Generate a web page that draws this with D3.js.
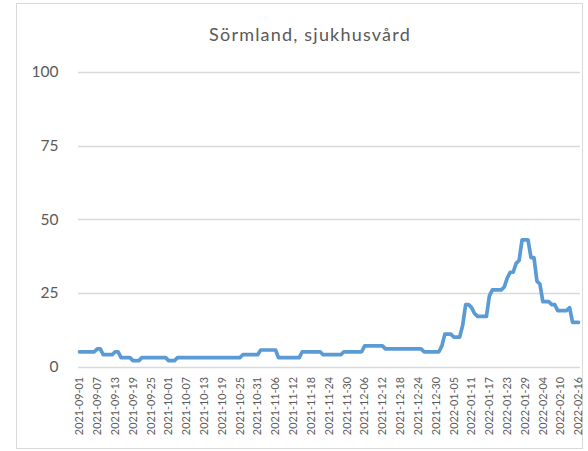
<!DOCTYPE html>
<html>
<head>
<meta charset="utf-8">
<script src="https://cdn.jsdelivr.net/npm/d3@7"></script>
<style>
  html, body { margin: 0; padding: 0; background: #fff; }
  svg { display: block; }
</style>
</head>
<body>
<svg id="chart" width="588" height="451"></svg>
<script>
const title = "Sörmland, sjukhusvård";
const startDate = "2021-09-01";
const yTicks = [0, 25, 50, 75, 100];
// daily values from 2021-09-01 to 2022-02-16
const values = [
  5, 5, 5, 5, 5, 5, 6, 6, 4, 4,        // Sep 1-10
  4, 4, 5, 5, 3, 3, 3, 3, 2, 2,        // Sep 11-20
  2, 3, 3, 3, 3, 3, 3, 3, 3, 3,        // Sep 21-30
  2, 2, 2, 3, 3, 3, 3, 3, 3, 3,        // Oct 1-10
  3, 3, 3, 3, 3, 3, 3, 3, 3, 3,        // Oct 11-20
  3, 3, 3, 3, 3, 4, 4, 4, 4, 4,        // Oct 21-30
  4, 5.6, 5.6, 5.6, 5.6, 5.6, 5.6, 3, 3, 3, // Oct 31-Nov 9
  3, 3, 3, 3, 3, 5, 5, 5, 5, 5,        // Nov 10-19
  5, 5, 4, 4, 4, 4, 4, 4, 4, 5,        // Nov 20-29
  5, 5, 5, 5, 5, 5, 7, 7, 7, 7,        // Nov 30-Dec 9
  7, 7, 7, 6, 6, 6, 6, 6, 6, 6,        // Dec 10-19
  6, 6, 6, 6, 6, 6, 5, 5, 5, 5,        // Dec 20-29
  5, 5, 7, 11, 11, 11, 10, 10, 10, 14, // Dec 30-Jan 8
  21, 21, 20, 18, 17, 17, 17, 17, 24, 26, // Jan 9-18
  26, 26, 26, 27, 30, 32, 32, 35, 36, 43, // Jan 19-28
  43, 43, 37, 37, 29, 28, 22, 22, 22, 21, // Jan 29-Feb 7
  21, 19, 19, 19, 19, 20, 15, 15, 15      // Feb 8-16
];
const parse = d3.timeParse("%Y-%m-%d");
const fmt = d3.timeFormat("%Y-%m-%d");
const dates = values.map((v, i) => d3.timeDay.offset(parse(startDate), i));
const categories = dates.map(fmt);
const labelEvery = 6;

const svg = d3.select("#chart");
const plotLeft = 78, plotRight = 580;

// outer chart border
svg.append("rect")
  .attr("x", 16.5).attr("y", 3.5)
  .attr("width", 566).attr("height", 445)
  .attr("fill", "#fff").attr("stroke", "#D9D9D9").attr("stroke-width", 1);

const x = d3.scaleBand().domain(categories).range([plotLeft, plotRight]);
const y = d3.scaleLinear().domain([0, 100]).range([366.5, 72]);

// gridlines
svg.append("g").selectAll("line").data(yTicks).join("line")
  .attr("x1", plotLeft).attr("x2", plotRight)
  .attr("y1", d => Math.round(y(d)) + 0.5).attr("y2", d => Math.round(y(d)) + 0.5)
  .attr("stroke", "#D9D9D9").attr("stroke-width", 1.3);

// y axis labels
const yAxis = d3.axisLeft(y).tickValues(yTicks).tickSize(0).tickPadding(0);
const gy = svg.append("g").attr("transform", "translate(58.5,0)").call(yAxis);
gy.select(".domain").remove();
gy.selectAll("text")
  .attr("fill", "#595959")
  .style("font-family", "Lato, 'Open Sans', sans-serif")
  .style("font-size", "15.5px");

// x axis labels
const xAxis = d3.axisBottom(x)
  .tickValues(categories.filter((c, i) => i % labelEvery === 0))
  .tickSize(0).tickPadding(0);
const gx = svg.append("g").attr("transform", "translate(0,366.5)").call(xAxis);
gx.select(".domain").remove();
gx.selectAll("text")
  .attr("fill", "#595959")
  .style("font-family", "Lato, 'Open Sans', sans-serif")
  .style("font-size", "10.8px")
  .attr("text-anchor", "end")
  .attr("transform", "rotate(-90)")
  .attr("x", -10.5)
  .attr("y", 0)
  .attr("dy", "0.35em");

// line
const line = d3.line()
  .x((d, i) => x(categories[i]) + x.bandwidth() / 2)
  .y(d => y(d));
svg.append("path")
  .datum(values)
  .attr("d", line)
  .attr("fill", "none")
  .attr("stroke", "#5B9BD5")
  .attr("stroke-width", 3.7)
  .attr("stroke-linejoin", "round")
  .attr("stroke-linecap", "round");

// title
svg.append("text")
  .attr("x", 310).attr("y", 41)
  .attr("text-anchor", "middle")
  .attr("fill", "#595959")
  .style("font-family", "Lato, 'Open Sans', sans-serif")
  .style("font-size", "18px")
  .style("letter-spacing", "1.2px")
  .text(title);
</script>
</body>
</html>
